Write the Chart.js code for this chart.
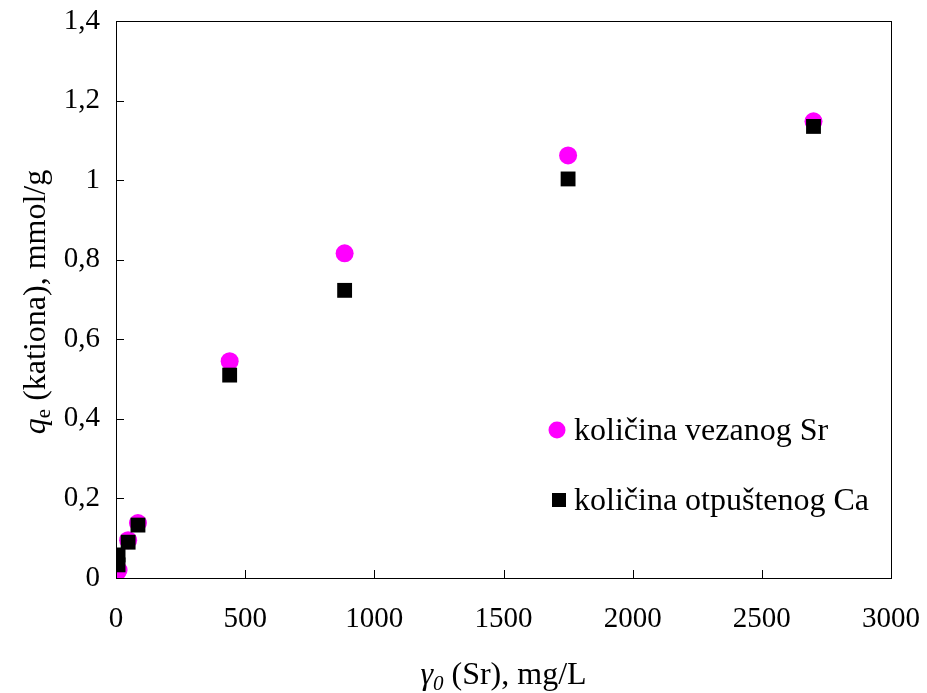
<!DOCTYPE html>
<html>
<head>
<meta charset="utf-8">
<script src="https://cdn.jsdelivr.net/npm/chart.js@4.4.1/dist/chart.umd.min.js"></script>
<style>
    html, body { margin: 0; padding: 0; background: #fff; }
    #wrap { width: 927px; height: 693px; }
</style>
</head>
<body>
<div id="wrap"><canvas id="grafico" width="927" height="693"></canvas></div>
<script>
// podaci sa slike
const koncentracijaSr = [5, 10, 47, 85, 440, 885, 1750, 2700];
const vezanoSr = [0.015, 0.02, 0.095, 0.138, 0.545, 0.816, 1.062, 1.148];
const koncentracijaCa = [8, 8, 47, 85, 440, 885, 1750, 2700];
const otpustenoCa = [0.058, 0.033, 0.09, 0.133, 0.51, 0.723, 1.003, 1.135];
const xTicks = [0, 500, 1000, 1500, 2000, 2500, 3000];
const yTicks = [0, 0.2, 0.4, 0.6, 0.8, 1, 1.2, 1.4];
const nazivi = ['količina vezanog Sr', 'količina otpuštenog Ca'];

const FONT = '"Liberation Serif", "Times New Roman", serif';
const VEL = 29;   // oznake na osama
const NASL = 32;  // naslovi osa i legenda

function fmt(v) {
    return String(Math.round(v * 10) / 10).replace('.', ',');
}

// okvir, unutrasnji tickovi, naslovi osa i legenda
const dodaci = {
    id: 'dodaci',
    afterDraw(chart) {
        const ctx = chart.ctx;
        const a = chart.chartArea;
        const sx = chart.scales.x, sy = chart.scales.y;
        ctx.save();
        ctx.strokeStyle = '#000';
        ctx.lineWidth = 1;
        ctx.strokeRect(a.left + 0.5, a.top + 0.5, a.right - a.left, a.bottom - a.top);
        ctx.beginPath();
        xTicks.forEach(t => {
            const px = Math.round(sx.getPixelForValue(t)) + 0.5;
            ctx.moveTo(px, a.bottom);
            ctx.lineTo(px, a.bottom - 8);
        });
        yTicks.forEach(t => {
            const py = Math.round(sy.getPixelForValue(t)) + 0.5;
            ctx.moveTo(a.left, py);
            ctx.lineTo(a.left + 8, py);
        });
        ctx.stroke();

        // naslov x ose
        ctx.fillStyle = '#000';
        ctx.textBaseline = 'alphabetic';
        const cx = (a.left + a.right) / 2;
        const by = 684;
        const dijelovi = [
            { t: 'γ', f: 'italic ' + NASL + 'px ' + FONT, dy: 0 },
            { t: '0', f: 'italic 21px ' + FONT, dy: 6 },
            { t: ' (Sr), mg/L', f: NASL + 'px ' + FONT, dy: 0 }
        ];
        let sirina = 0;
        dijelovi.forEach(d => { ctx.font = d.f; sirina += ctx.measureText(d.t).width; });
        let x = cx - sirina / 2;
        dijelovi.forEach(d => {
            ctx.font = d.f;
            ctx.fillText(d.t, x, by + d.dy);
            x += ctx.measureText(d.t).width;
        });

        // naslov y ose
        ctx.save();
        ctx.translate(45, 302);
        ctx.rotate(-Math.PI / 2);
        const yd = [
            { t: 'q', f: 'italic ' + NASL + 'px ' + FONT, dy: 0 },
            { t: 'e', f: '21px ' + FONT, dy: 5 },
            { t: ' (kationa), mmol/g', f: NASL + 'px ' + FONT, dy: 0 }
        ];
        sirina = 0;
        yd.forEach(d => { ctx.font = d.f; sirina += ctx.measureText(d.t).width; });
        x = -sirina / 2;
        yd.forEach(d => {
            ctx.font = d.f;
            ctx.fillText(d.t, x, d.dy);
            x += ctx.measureText(d.t).width;
        });
        ctx.restore();

        // legenda
        ctx.font = NASL + 'px ' + FONT;
        ctx.textBaseline = 'middle';
        ctx.fillStyle = '#ff00ff';
        ctx.beginPath();
        ctx.arc(557, 430, 8.5, 0, Math.PI * 2);
        ctx.fill();
        ctx.fillStyle = '#000';
        ctx.fillRect(552, 493, 14, 14);
        ctx.fillText(nazivi[0], 574, 432);
        ctx.fillText(nazivi[1], 574, 502);
        ctx.restore();
    }
};

const tickFont = { family: FONT, size: VEL };

new Chart(document.getElementById('grafico'), {
    type: 'scatter',
    data: {
        datasets: [
            {
                label: nazivi[0],
                data: koncentracijaSr.map((v, i) => ({ x: v, y: vezanoSr[i] })),
                pointStyle: 'circle',
                pointRadius: 9,
                pointHoverRadius: 9,
                backgroundColor: '#ff00ff',
                borderColor: '#ff00ff',
                borderWidth: 0,
                order: 2
            },
            {
                label: nazivi[1],
                data: koncentracijaCa.map((v, i) => ({ x: v, y: otpustenoCa[i] })),
                pointStyle: 'rect',
                pointRadius: 10.5,
                pointHoverRadius: 10.5,
                backgroundColor: '#000',
                borderColor: '#000',
                borderWidth: 0,
                order: 1
            }
        ]
    },
    options: {
        responsive: false,
        animation: false,
        layout: { padding: { top: 21, right: 36, left: 0, bottom: 0 } },
        plugins: {
            legend: { display: false },
            tooltip: { enabled: false }
        },
        scales: {
            x: {
                type: 'linear',
                min: 0,
                max: 3000,
                afterBuildTicks: s => { s.ticks = xTicks.map(v => ({ value: v })); },
                afterFit: s => {
                    s.height = 115;
                    s.paddingLeft = 0; s.paddingRight = 0;
                },
                grid: { display: false, drawTicks: false },
                border: { display: false },
                ticks: { font: tickFont, color: '#000', padding: 24, maxRotation: 0, callback: v => String(v) }
            },
            y: {
                min: 0,
                max: 1.4,
                afterBuildTicks: s => { s.ticks = yTicks.map(v => ({ value: v })); },
                afterFit: s => {
                    s.width = 116;
                    s.paddingTop = 0; s.paddingBottom = 0;
                },
                grid: { display: false, drawTicks: false },
                border: { display: false },
                ticks: { font: tickFont, color: '#000', padding: 16, callback: v => fmt(v) }
            }
        }
    },
    plugins: [dodaci]
});
</script>
</body>
</html>
